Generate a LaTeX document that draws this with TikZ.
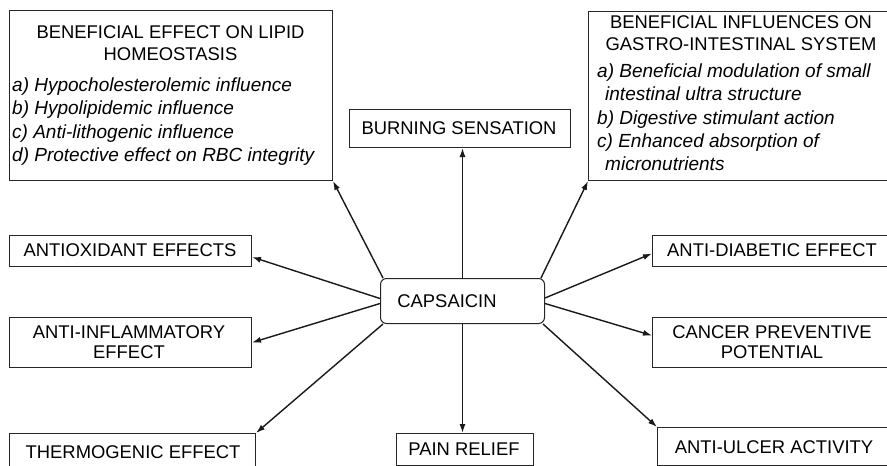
\documentclass[tikz,border=0pt]{standalone}
\usepackage{fontspec}
\setmainfont{Liberation Sans}
\usetikzlibrary{arrows.meta}
\begin{document}
\begin{tikzpicture}[x=1pt,y=-1pt,
  box/.style={draw=black!85, line width=1pt, inner sep=0pt, anchor=north west, rectangle},
  lbl/.style={inner sep=0pt, anchor=base, font=\fontsize{18.4}{23}\selectfont, text=black},
  itm/.style={inner sep=0pt, anchor=base west, font=\fontsize{19}{23}\selectfont\itshape, text=black},
  arr/.style={line width=1.4pt, draw=black!90, -{Latex[length=9pt,width=6pt]}}]
\useasboundingbox (0,0) rectangle (887,466);
\clip (0,0) rectangle (887,466);

% boxes
\node[box, minimum width=323pt, minimum height=170pt] (lipid) at (9,10) {};
\node[box, minimum width=307pt, minimum height=169pt] (gi) at (588,11) {};
\node[box, minimum width=221pt, minimum height=38pt] (burn) at (349,109) {};
\node[box, minimum width=164pt, minimum height=45pt, rounded corners=6pt] (cap) at (380,278) {};
\node[box, minimum width=137pt, minimum height=32pt] (pain) at (396,433) {};
\node[box, minimum width=242pt, minimum height=31pt] (antiox) at (9,235) {};
\node[box, minimum width=242pt, minimum height=50pt] (antiinfl) at (9,317) {};
\node[box, minimum width=246pt, minimum height=45pt] (thermo) at (9,433) {};
\node[box, minimum width=243pt, minimum height=31pt] (antidiab) at (652,235) {};
\node[box, minimum width=243pt, minimum height=50pt] (cancer) at (652,317) {};
\node[box, minimum width=240pt, minimum height=38pt] (ulcer) at (657,427) {};

% lipid homeostasis
\node[lbl] (lipidA) at (170.5,38) {BENEFICIAL EFFECT ON LIPID};
\node[lbl] (lipidB) at (170.5,60) {HOMEOSTASIS};
\node[itm] (lipid1) at (12,91) {a) Hypocholesterolemic influence};
\node[itm] (lipid2) at (12,114) {b) Hypolipidemic influence};
\node[itm] (lipid3) at (12,138) {c) Anti-lithogenic influence};
\node[itm] (lipid4) at (12,161) {d) Protective effect on RBC integrity};

% gastro-intestinal system
\node[lbl] (giA) at (741,28) {BENEFICIAL INFLUENCES ON};
\node[lbl] (giB) at (741,50) {GASTRO-INTESTINAL SYSTEM};
\node[itm] (gi1) at (597,77) {a) Beneficial modulation of small};
\node[itm] (gi1b) at (605,100) {intestinal ultra structure};
\node[itm] (gi2) at (597,124) {b) Digestive stimulant action};
\node[itm] (gi3) at (597,147) {c) Enhanced absorption of};
\node[itm] (gi3b) at (605,170) {micronutrients};

% single labels
\node[lbl] (burnT) at (459,134) {BURNING SENSATION};
\node[lbl] (capT) at (447,307) {CAPSAICIN};
\node[lbl] (painT) at (464,455) {PAIN RELIEF};
\node[lbl] (antioxT) at (130,256) {ANTIOXIDANT EFFECTS};
\node[lbl] (antiinflA) at (129,338) {ANTI-INFLAMMATORY};
\node[lbl] (antiinflB) at (129,358) {EFFECT};
\node[lbl] (thermoT) at (133,458) {THERMOGENIC EFFECT};
\node[lbl] (antidiabT) at (772,256) {ANTI-DIABETIC EFFECT};
\node[lbl] (cancerA) at (772,338) {CANCER PREVENTIVE};
\node[lbl] (cancerB) at (772,358) {POTENTIAL};
\node[lbl] (ulcerT) at (774,453) {ANTI-ULCER ACTIVITY};

% connectors
\draw[arr] ([xshift=3pt]cap.north west) -- (lipid.south east);
\draw[arr] (cap.north) -- (cap.north |- burn.south);
\draw[arr] ([xshift=-4pt]cap.north east) -- (gi.south west);
\draw[arr] ([yshift=2.5pt]cap.west) -- ([yshift=-6pt]antiox.east);
\draw[arr] ([yshift=-2.5pt]cap.west) -- (antiinfl.east);
\draw[arr] ([xshift=3pt]cap.south west) -- (thermo.north east);
\draw[arr] ([yshift=3pt]cap.east) -- ([yshift=-2.5pt]antidiab.west);
\draw[arr] ([yshift=-2.5pt]cap.east) -- ([yshift=7pt]cancer.west);
\draw[arr] ([xshift=-2pt]cap.south east) -- (ulcer.north west);
\draw[arr] (cap.south) -- (cap.south |- pain.north);
\end{tikzpicture}
\end{document}
